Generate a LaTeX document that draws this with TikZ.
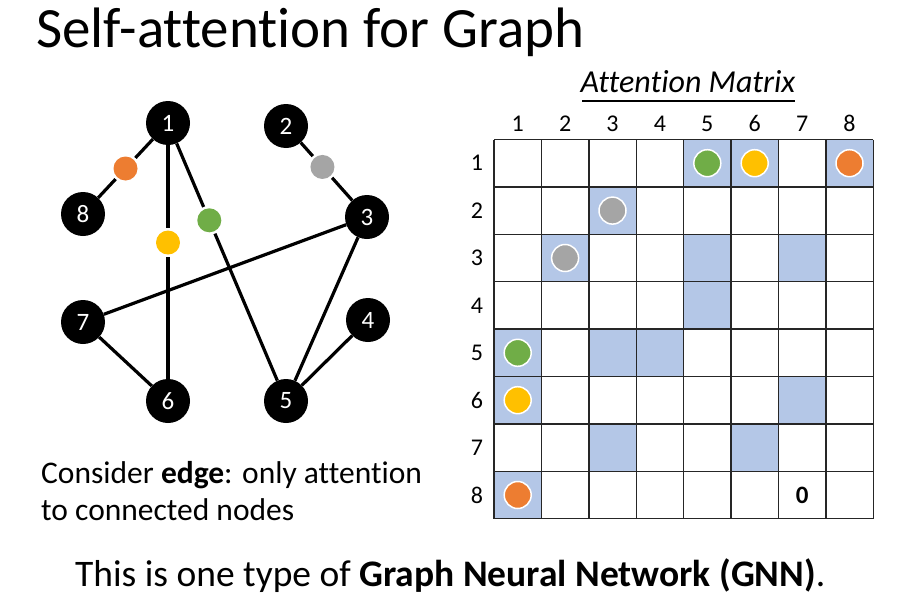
\documentclass[tikz,border=0pt]{standalone}
\usepackage{fontspec}
\setmainfont[RawFeature={-liga;-calt;-dlig;-clig}]{Carlito}
\usetikzlibrary{calc}
\definecolor{cblue}{HTML}{B4C7E7}
\definecolor{cgreen}{HTML}{70AD47}
\definecolor{cyellow}{HTML}{FFC000}
\definecolor{corange}{HTML}{ED7D31}
\definecolor{cgray}{HTML}{A5A5A5}
\begin{document}
\begin{tikzpicture}[x=1pt,y=-1pt,
  gnode/.style={circle, fill=black, minimum size=44pt, inner sep=0pt, text=white, font=\fontsize{25}{25}\selectfont},
  edge/.style={line width=3.2pt, black},
  edot/.style={circle, minimum size=24pt, inner sep=0pt, outer sep=2.5pt},
  mdot/.style={circle, minimum size=27pt, inner sep=0pt, draw=white, line width=1.5pt},
  cellfill/.style={fill=cblue},
  gridline/.style={line width=1.4pt, black!85},
  lbl/.style={font=\fontsize{24}{24}\selectfont, inner sep=0pt}
]
\useasboundingbox (0,0) rectangle (899,597);
\fill[white] (0,0) rectangle (899,597);

% title
\node[anchor=base west, inner sep=0pt, font=\fontsize{57}{60}\selectfont] (title) at (36,47) {Self-attention for Graph};

% graph nodes
\node[gnode] (n1) at (168,123) {1};
\node[gnode] (n2) at (286,126) {2};
\node[gnode] (n3) at (367,217) {3};
\node[gnode] (n4) at (368,320) {4};
\node[gnode] (n5) at (286,401) {5};
\node[gnode] (n6) at (168,401) {6};
\node[gnode] (n7) at (83,322) {7};
\node[gnode] (n8) at (83,214) {8};

% dots on edges
\node[edot, fill=corange] (d18) at ($(n1)!0.5!(n8)$) {};
\node[edot, fill=cyellow] (d16) at ($(n1)!0.43!(n6)$) {};
\node[edot, fill=cgreen] (d15) at ($(n1)!0.35!(n5)$) {};
\node[edot, fill=cgray] (d23) at ($(n2)!0.45!(n3)$) {};

% edges
\draw[edge] (n1) -- (d18);
\draw[edge] (d18) -- (n8);
\draw[edge] (n1) -- (d16);
\draw[edge] (d16) -- (n6);
\draw[edge] (n1) -- (d15);
\draw[edge] (d15) -- (n5);
\draw[edge] (n2) -- (d23);
\draw[edge] (d23) -- (n3);
\draw[edge] (n3) -- (n7);
\draw[edge] (n3) -- (n5);
\draw[edge] (n4) -- (n5);
\draw[edge] (n7) -- (n6);

% left caption
\node[anchor=base west, inner sep=0pt, font=\fontsize{31.5}{31}\selectfont] (cap1) at (41,483) {Consider \textbf{edge}: only attention};
\node[anchor=base west, inner sep=0pt, font=\fontsize{31.5}{31}\selectfont] (cap2) at (41,520) {to connected nodes};

% matrix title
\node[anchor=base, inner sep=0pt, font=\fontsize{32}{32}\selectfont\itshape] (mtitle) at (688,92) {Attention Matrix};
\draw[line width=1.4pt] (582,101) -- (795,101);

% cell fills
\foreach \r/\c in {1/5,1/6,1/8,2/3,3/2,3/5,3/7,4/5,5/1,5/3,5/4,6/1,6/7,7/3,7/6,8/1}
  \fill[cellfill] ({494+(\c-1)*47.4},{139.5+(\r-1)*47.4}) rectangle ++(47.4,47.4);

% grid
\foreach \i in {0,...,8} {
  \draw[gridline] ({494+\i*47.4},139.5) -- ({494+\i*47.4},518.7);
  \draw[gridline] (494,{139.5+\i*47.4}) -- (873.2,{139.5+\i*47.4});
}

% labels
\foreach \i in {1,...,8} {
  \node[lbl, anchor=base] (c\i) at ({494+(\i-0.5)*47.4},131) {\i};
  \node[lbl] (r\i) at (477,{139.5+(\i-0.5)*47.4}) {\i};
}

% matrix dots
\newcommand{\mcell}[4]{\node[mdot, fill=#3] (#4) at ({494+(#2-0.5)*47.4},{139.5+(#1-0.5)*47.4}) {};}
\mcell{1}{5}{cgreen}{m15}
\mcell{1}{6}{cyellow}{m16}
\mcell{1}{8}{corange}{m18}
\mcell{2}{3}{cgray}{m23}
\mcell{3}{2}{cgray}{m32}
\mcell{5}{1}{cgreen}{m51}
\mcell{6}{1}{cyellow}{m61}
\mcell{8}{1}{corange}{m81}

\node[inner sep=0pt, font=\fontsize{25}{25}\selectfont\bfseries] (zero) at ({494+6.5*47.4},{139.5+7.5*47.4}) {0};

% bottom text
\node[anchor=base west, inner sep=0pt, font=\fontsize{37.5}{38}\selectfont] (bottom) at (75,586) {This is one type of \textbf{Graph Neural Network (GNN)}.};
\end{tikzpicture}
\end{document}
